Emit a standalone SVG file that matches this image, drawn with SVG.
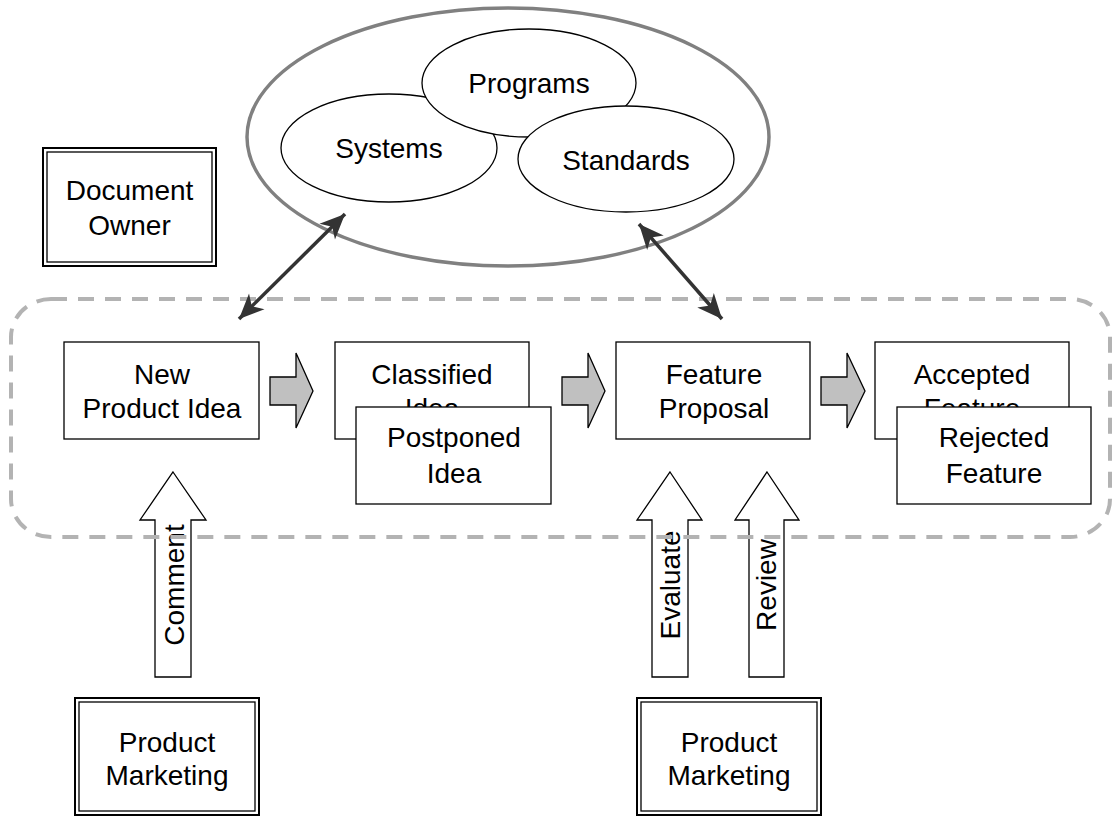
<svg xmlns="http://www.w3.org/2000/svg" width="1118" height="818" viewBox="0 0 1118 818">
  <defs>
    <style>
      .lbl { font-family: "Liberation Sans", Arial, sans-serif; font-size: 28px; fill: #000; text-anchor: middle; }
      .box { fill: #fff; stroke: #000; stroke-width: 1.3; }
      .bubble { fill: #fff; stroke: #000; stroke-width: 1.3; }
      .flow { fill: #c0c0c0; stroke: #000; stroke-width: 1.3; stroke-linejoin: miter; }
      .input { fill: #fff; stroke: #000; stroke-width: 1.3; }
      .outer { fill: #fff; stroke: #000; stroke-width: 2; }
      .inner { fill: none; stroke: #000; stroke-width: 1.3; }
      .link { fill: none; stroke: #333; stroke-width: 3.5; }
      .scope { fill: none; stroke: #b3b3b3; stroke-width: 4; stroke-dasharray: 16 11; }
      .realm { fill: #fff; stroke: #808080; stroke-width: 3.5; }
    </style>
    <marker id="barb" viewBox="-26 -12 28 24" refX="0" refY="0" markerWidth="28" markerHeight="24" markerUnits="userSpaceOnUse" orient="auto-start-reverse">
      <path d="M0,0 L-25,-11 L-18,0 L-25,11 Z" fill="#333"/>
    </marker>
  </defs>

  <!-- knowledge realm with overlapping areas -->
  <g id="realm">
    <ellipse class="realm" cx="508" cy="137" rx="261" ry="129"/>
  </g>
  <g id="systems">
    <ellipse class="bubble" cx="389" cy="148" rx="108" ry="54"/>
    <text class="lbl" x="389" y="158">Systems</text>
  </g>
  <g id="programs">
    <ellipse class="bubble" cx="529" cy="83" rx="107" ry="54"/>
    <text class="lbl" x="529" y="93">Programs</text>
  </g>
  <g id="standards">
    <ellipse class="bubble" cx="626" cy="159" rx="108" ry="53"/>
    <text class="lbl" x="626" y="170">Standards</text>
  </g>

  <!-- roles -->
  <g id="document-owner">
    <rect class="outer" x="43" y="148" width="173" height="118"/>
    <rect class="inner" x="47" y="152" width="165" height="110"/>
    <text class="lbl" x="129.5" y="200">Document</text>
    <text class="lbl" x="129.5" y="235">Owner</text>
  </g>
  <g id="product-marketing-1">
    <rect class="outer" x="75" y="698" width="184" height="117"/>
    <rect class="inner" x="79" y="702" width="176" height="109"/>
    <text class="lbl" x="167" y="752">Product</text>
    <text class="lbl" x="167" y="785">Marketing</text>
  </g>
  <g id="product-marketing-2">
    <rect class="outer" x="637" y="698" width="184" height="117"/>
    <rect class="inner" x="641" y="702" width="176" height="109"/>
    <text class="lbl" x="729" y="752">Product</text>
    <text class="lbl" x="729" y="785">Marketing</text>
  </g>

  <!-- input arrows from marketing -->
  <g id="comment">
    <path class="input" d="M173,472 L206,520 L191,520 L191,677 L155,677 L155,520 L140,520 Z"/>
    <text class="lbl" transform="translate(184,585) rotate(-90)">Comment</text>
  </g>
  <g id="evaluate">
    <path class="input" d="M670,472 L702,520 L688,520 L688,677 L652,677 L652,520 L637,520 Z"/>
    <text class="lbl" transform="translate(680,585) rotate(-90)">Evaluate</text>
  </g>
  <g id="review">
    <path class="input" d="M767,472 L799,520 L784,520 L784,677 L749,677 L749,520 L735,520 Z"/>
    <text class="lbl" transform="translate(776,585) rotate(-90)">Review</text>
  </g>

  <!-- lifecycle scope -->
  <g id="lifecycle">
    <rect class="scope" x="11" y="299" width="1099" height="238" rx="40" ry="38"/>
  </g>

  <!-- lifecycle states -->
  <g id="new-product-idea">
    <rect class="box" x="64" y="342" width="195" height="97"/>
    <text class="lbl" x="162" y="384">New</text>
    <text class="lbl" x="162" y="418">Product Idea</text>
  </g>
  <g id="classified-idea">
    <rect class="box" x="335" y="342" width="194" height="97"/>
    <text class="lbl" x="432" y="384">Classified</text>
    <text class="lbl" x="432" y="418">Idea</text>
  </g>
  <g id="postponed-idea">
    <rect class="box" x="356" y="407" width="195" height="97"/>
    <text class="lbl" x="454" y="447">Postponed</text>
    <text class="lbl" x="454" y="483">Idea</text>
  </g>
  <g id="feature-proposal">
    <rect class="box" x="616" y="342" width="194" height="97"/>
    <text class="lbl" x="714" y="384">Feature</text>
    <text class="lbl" x="714" y="418">Proposal</text>
  </g>
  <g id="accepted-feature">
    <rect class="box" x="875" y="342" width="194" height="97"/>
    <text class="lbl" x="972" y="384">Accepted</text>
    <text class="lbl" x="972" y="418">Feature</text>
  </g>
  <g id="rejected-feature">
    <rect class="box" x="897" y="407" width="194" height="97"/>
    <text class="lbl" x="994" y="447">Rejected</text>
    <text class="lbl" x="994" y="483">Feature</text>
  </g>

  <!-- connectors -->
  <g id="connectors">
    <path class="flow" d="M270,377 L296,377 L296,353 L313,391 L296,428 L296,405 L270,405 Z"/>
    <path class="flow" d="M562,377 L588,377 L588,353 L605,391 L588,428 L588,405 L562,405 Z"/>
    <path class="flow" d="M821,377 L847,377 L847,353 L865,391 L847,428 L847,405 L821,405 Z"/>
    <line class="link" x1="239" y1="319" x2="345" y2="214" marker-start="url(#barb)" marker-end="url(#barb)"/>
    <line class="link" x1="639" y1="224" x2="722" y2="319" marker-start="url(#barb)" marker-end="url(#barb)"/>
  </g>
</svg>
